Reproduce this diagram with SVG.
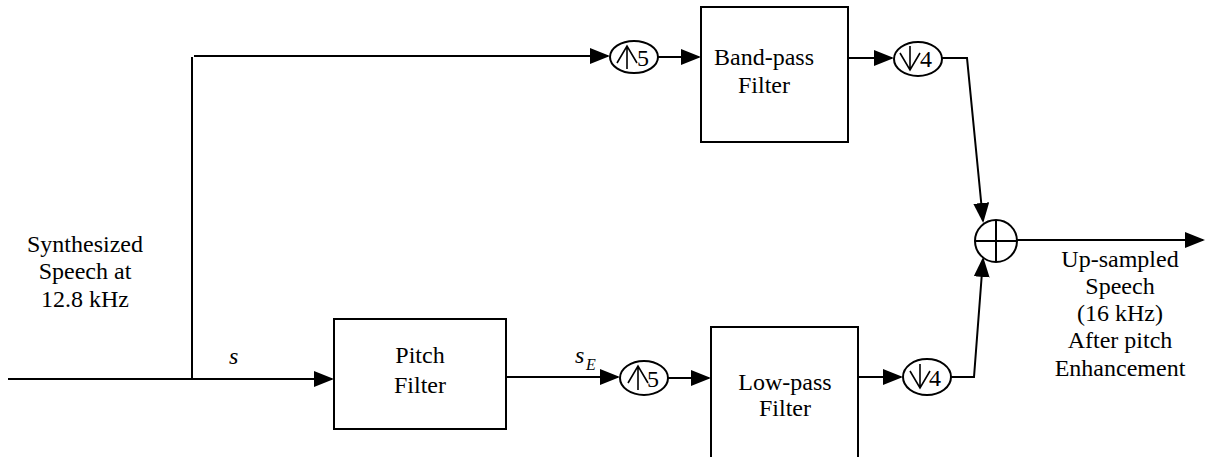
<svg xmlns="http://www.w3.org/2000/svg" width="1205" height="457" viewBox="0 0 1205 457">
<style>
text{font-family:"Liberation Serif","Times New Roman",serif;font-size:24px;fill:#000}
.c{text-anchor:middle}
.i{font-style:italic}
.box{fill:#fff;stroke:#000;stroke-width:2}
.ell{fill:#fff;stroke:#000;stroke-width:2}
.ln{fill:none;stroke:#000;stroke-width:2}
.sym{fill:none;stroke:#000;stroke-width:1.6}
</style>
<defs>
<marker id="ah" markerUnits="userSpaceOnUse" markerWidth="20" markerHeight="16" refX="18" refY="8" orient="auto" viewBox="0 0 20 16">
<path d="M0,0 L20,8 L0,16 z" fill="#000"/>
</marker>
</defs>
<g id="connectors">
<line class="ln" x1="8" y1="379" x2="332" y2="379" marker-end="url(#ah)"/>
<line class="ln" x1="192" y1="380" x2="192" y2="57"/>
<line class="ln" x1="194" y1="56" x2="608" y2="56" marker-end="url(#ah)"/>
<line class="ln" x1="658" y1="57" x2="699" y2="57" marker-end="url(#ah)"/>
<line class="ln" x1="848" y1="58" x2="892" y2="58" marker-end="url(#ah)"/>
<polyline class="ln" points="942,58 967,58 983,221" marker-end="url(#ah)"/>
<line class="ln" x1="496" y1="377" x2="618" y2="377" marker-end="url(#ah)"/>
<line class="ln" x1="668" y1="378" x2="709" y2="378" marker-end="url(#ah)"/>
<line class="ln" x1="858" y1="377" x2="901" y2="377" marker-end="url(#ah)"/>
<polyline class="ln" points="951,377 974,377 983,259" marker-end="url(#ah)"/>
<line class="ln" x1="1017" y1="240" x2="1203" y2="240" marker-end="url(#ah)"/>
</g>
<g id="input-label">
<text class="c" x="85" y="252">Synthesized</text>
<text class="c" x="85" y="279">Speech at</text>
<text class="c" x="85" y="307">12.8 kHz</text>
<text class="i" x="229" y="364">s</text>
</g>
<g id="bandpass">
<rect class="box" x="701" y="7" width="147" height="135"/>
<text class="c" x="764" y="65">Band-pass</text>
<text class="c" x="764" y="93">Filter</text>
</g>
<g id="up-top">
<ellipse class="ell" cx="634" cy="57" rx="24" ry="16"/>
<path class="sym" d="M627,69 V46 M617,63 L627,46 L637,63"/>
<text x="637" y="66">5</text>
</g>
<g id="down-top">
<ellipse class="ell" cx="918" cy="59" rx="24" ry="17"/>
<path class="sym" d="M910,46 V70 M900,53 L910,70 L920,53"/>
<text x="920" y="67">4</text>
</g>
<g id="pitch">
<rect class="box" x="334" y="319" width="172" height="110"/>
<text class="c" x="420" y="363">Pitch</text>
<text class="c" x="420" y="393">Filter</text>
</g>
<g id="se-label">
<text class="i" x="575" y="363">s</text>
<text class="i" x="586" y="370" style="font-size:16px">E</text>
</g>
<g id="up-bottom">
<ellipse class="ell" cx="644" cy="378" rx="24" ry="17"/>
<path class="sym" d="M638,390 V366 M628,383 L638,366 L648,383"/>
<text x="647" y="387">5</text>
</g>
<g id="lowpass">
<rect class="box" x="711" y="327" width="147" height="140"/>
<text class="c" x="785" y="390">Low-pass</text>
<text class="c" x="785" y="416">Filter</text>
</g>
<g id="down-bottom">
<ellipse class="ell" cx="927" cy="377" rx="24" ry="18"/>
<path class="sym" d="M920,364 V388 M910,371 L920,388 L930,371"/>
<text x="929" y="386">4</text>
</g>
<g id="sum">
<circle class="ell" cx="996" cy="241" r="21"/>
<path class="ln" d="M996,220 V262 M975,241 H1017"/>
</g>
<g id="output-label">
<text class="c" x="1120" y="267">Up-sampled</text>
<text class="c" x="1120" y="294">Speech</text>
<text class="c" x="1120" y="321">(16 kHz)</text>
<text class="c" x="1120" y="348">After pitch</text>
<text class="c" x="1120" y="376">Enhancement</text>
</g>
</svg>
